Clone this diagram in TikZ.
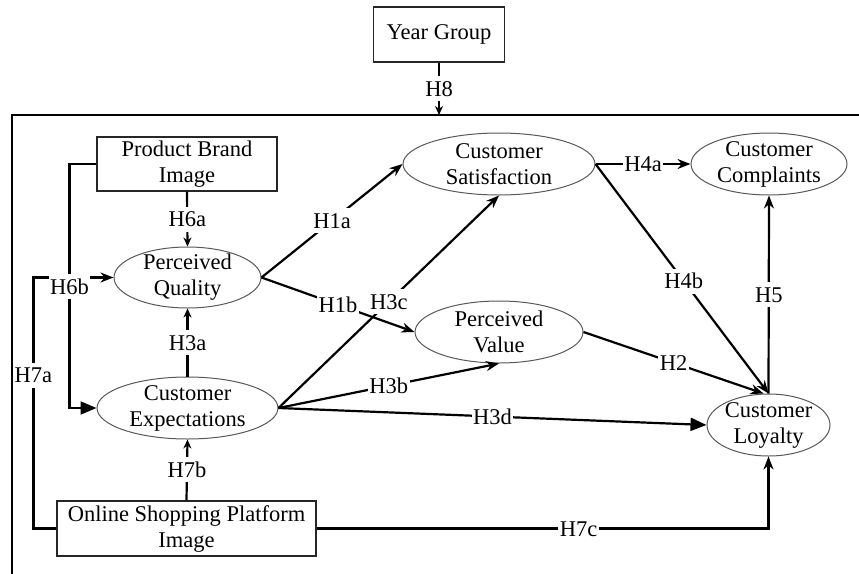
\documentclass[tikz,border=0pt]{standalone}
\usepackage{fontspec}
\setmainfont{Liberation Serif}
\usetikzlibrary{arrows.meta,shapes.geometric,calc}

\begin{document}
\begin{tikzpicture}[x=1pt,y=-1pt,
  font=\fontsize{22.5}{26}\selectfont,
  ell/.style={ellipse, draw=black!65, line width=1pt, inner sep=0pt},
  box/.style={rectangle, draw=black!85, line width=1.2pt, inner sep=0pt, align=center},
  conn/.style={line width=2.2pt},
  lab/.style={fill=white, inner xsep=1.5pt, inner ysep=5pt, text height=15pt, text depth=0pt},
  tipS/.style={-{Stealth[length=9pt,width=8pt]}},
  tipM/.style={-{Stealth[length=13pt,width=10pt]}},
  tipL/.style={-{Triangle[length=16pt,width=13pt]}}]

\useasboundingbox (0,0) rectangle (859,573);
\clip (0,0) rectangle (859,573);
\fill[white] (0,0) rectangle (859,573);

% outer frame of the model
\draw[line width=2pt] (12,115) rectangle (900,620);
\coordinate (ftop) at (439,115);

% boxes
\node[box, minimum width=131pt, minimum height=55pt] (yg) at (439,34.5) {Year Group};
\node[box, minimum width=180pt, minimum height=54pt] (pbi) at (187,164) {Product Brand\\Image};
\node[box, minimum width=259pt, minimum height=55pt] (ospi) at (186.5,528.5) {Online Shopping Platform\\Image};

% latent constructs
\node[ell, minimum width=147pt, minimum height=61pt,
  label={[align=center]center:{Perceived\\Quality}}] (pq) at (187.5,277.5) {};
\node[ell, minimum width=181pt, minimum height=62pt,
  label={[align=center]center:{Customer\\Expectations}}] (ce) at (187.5,408) {};
\node[ell, minimum width=192pt, minimum height=62pt,
  label={[align=center]center:{Customer\\Satisfaction}}] (cs) at (499,164) {};
\node[ell, minimum width=168pt, minimum height=62pt,
  label={[align=center]center:{Perceived\\Value}}] (pv) at (499,332) {};
\node[ell, minimum width=156pt, minimum height=62pt,
  label={[align=center]center:{Customer\\Complaints}}] (cc) at (769,164) {};
\node[ell, minimum width=123pt, minimum height=62pt,
  label={[align=center]center:{Customer\\Loyalty}}] (cl) at (768.5,425) {};

% hypothesised paths
\draw[conn,tipS] (yg.south) -- node[lab]{H8} (ftop);
\draw[conn,tipS] (pbi.south) -- node[lab]{H6a} (pq.north);
\draw[conn,tipS] (ce.north) -- node[lab]{H3a} (pq.south);
\draw[conn,tipS] (ospi.north) -- node[lab]{H7b} (ce.south);
\draw[conn,tipM] (pq.east) -- node[lab]{H1a} (cs.west);
\draw[conn,tipM] (pq.east) -- node[lab,pos=0.5]{H1b} (pv.west);
\draw[conn,tipM] (ce.east) -- node[lab,pos=0.5]{H3c} (cs.south);
\draw[conn,tipM] (ce.east) -- node[lab]{H3b} (pv.south);
\draw[conn,tipL] (ce.east) -- node[lab]{H3d} (cl.west);
\draw[conn,tipM] (cs.east) -- node[lab]{H4a} (cc.west);
\draw[conn,tipM] (cs.east) -- node[lab,pos=0.51]{H4b} (cl.north);
\draw[conn,tipM] (pv.east) -- node[lab]{H2} ([xshift=-5pt]cl.north);
\draw[conn,tipM] (cl.north) -- node[lab]{H5} (cc.south);
\draw[conn,tipM] (ospi.east) -| node[lab,pos=0.29]{H7c} (cl.south);
\draw[conn,tipM] (ospi.west) -- ++(-23,0) |- node[lab,pos=0.305]{H7a} (pq.west);
\draw[conn,tipL] (pbi.west) -- ++(-27,0) |- node[lab,pos=0.252]{H6b} (ce.west);

\end{tikzpicture}
\end{document}
